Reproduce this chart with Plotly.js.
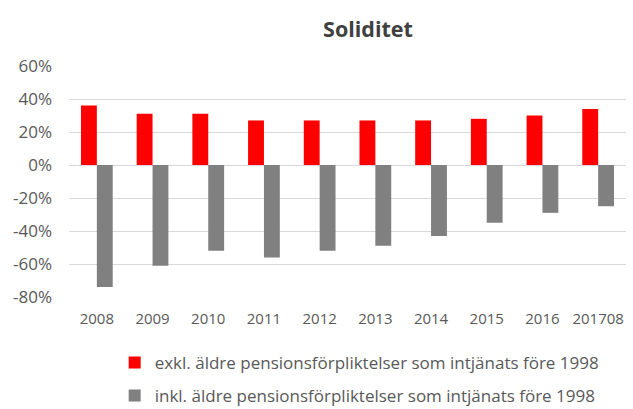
<!DOCTYPE html>
<html>
<head>
<meta charset="utf-8">
<script src="https://cdn.plot.ly/plotly-3.0.1.min.js"></script>
<style>html,body{margin:0;padding:0;background:#fff;overflow:hidden;}#chart{width:633px;}</style>
</head>
<body>
<div id="chart"></div>
<script>
const categories = ["2008","2009","2010","2011","2012","2013","2014","2015","2016","201708"];
const exklValues = [0.36,0.31,0.31,0.27,0.27,0.27,0.27,0.28,0.30,0.34];
const inklValues = [-0.74,-0.61,-0.52,-0.56,-0.52,-0.49,-0.43,-0.35,-0.29,-0.25];
const seriesNames = ["exkl. äldre pensionsförpliktelser som intjänats före 1998","inkl. äldre pensionsförpliktelser som intjänats före 1998"];
const yTicks = [-0.8,-0.6,-0.4,-0.2,0,0.2,0.4,0.6];
const yTickLabels = ["-80%","-60%","-40%","-20%","0%","20%","40%","60%"];

const font = "'Open Sans', 'Liberation Sans', sans-serif";
const H = 426, T = 66, PLOT_BOTTOM = 297;
const data = [
  {type:"bar", x:categories, y:exklValues, name:seriesNames[0], marker:{color:"#ff0000"}, legend:"legend", hoverinfo:"none"},
  {type:"bar", x:categories, y:inklValues, name:seriesNames[1], marker:{color:"#808080"}, legend:"legend2", hoverinfo:"none"}
];
const legendBase = {orientation:"v", x:0.082, xanchor:"left", yanchor:"middle", font:{family:font, size:17, color:"#595959"}, itemwidth:30, bgcolor:"rgba(0,0,0,0)"};
const layout = {
  width:633, height:H,
  margin:{l:69, r:7, t:T, b:0},
  paper_bgcolor:"#fff", plot_bgcolor:"#fff",
  barmode:"group", bargap:0.43, bargroupgap:0,
  title:{text:"<b>Soliditet</b>", x:368/633, xanchor:"center", y:1-29/H, yanchor:"middle", font:{family:font, size:21.5, color:"#404040"}},
  xaxis:{type:"category", showgrid:false, zeroline:false, showline:false, ticks:"", ticklabelstandoff:11, tickfont:{family:font, size:15, color:"#595959"}},
  yaxis:{domain:[(H-PLOT_BOTTOM)/(H-T), 1], range:[-0.8,0.6], tickvals:yTicks, ticktext:yTickLabels, showgrid:true, gridcolor:"#d9d9d9", gridwidth:1, zeroline:false, showline:false, ticks:"", ticklabelstandoff:16, tickfont:{family:font, size:17, color:"#595959"}},
  showlegend:true,
  legend:Object.assign({}, legendBase, {y:(H-363)/(H-T)}),
  legend2:Object.assign({}, legendBase, {y:(H-396)/(H-T)})
};
Plotly.newPlot("chart", data, layout, {staticPlot:true, displayModeBar:false});
</script>
</body>
</html>
